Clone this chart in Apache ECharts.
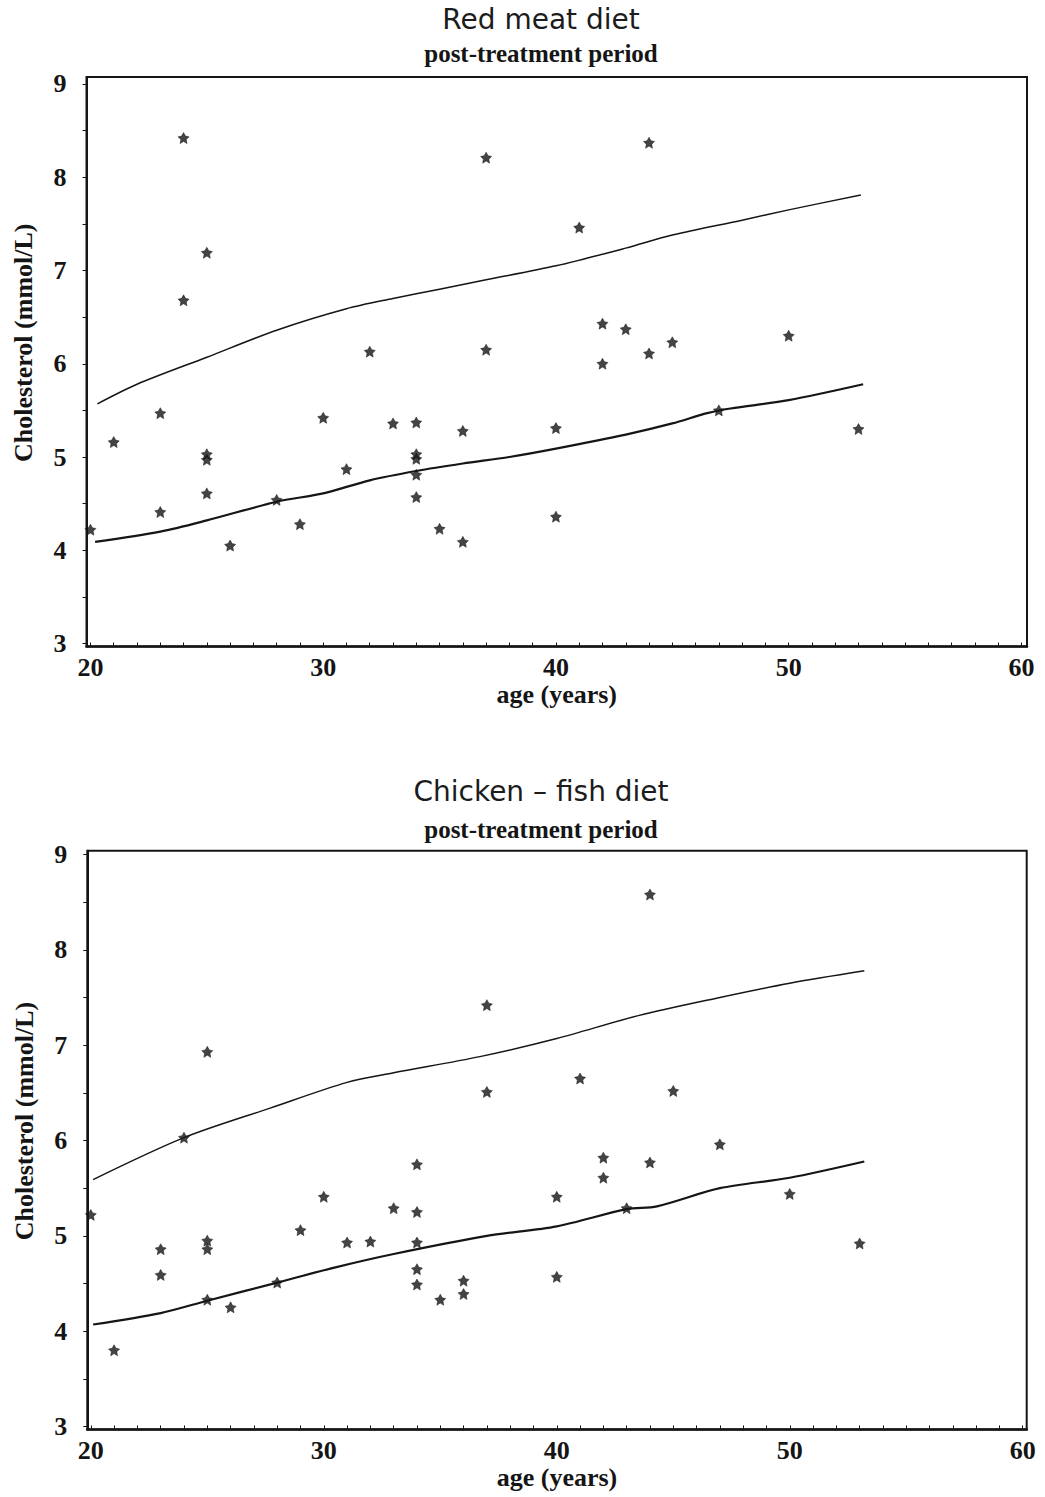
<!DOCTYPE html>
<html>
<head>
<meta charset="utf-8">
<script src="https://cdn.jsdelivr.net/npm/echarts@6/dist/echarts.min.js"></script>
<style>
html,body{margin:0;padding:0;background:#ffffff;}
#chart{width:1045px;height:1497px;}
</style>
</head>
<body>
<div id="chart"></div>
<script>
// ---- tick labels ----
const xTickLabels = [20, 30, 40, 50, 60];
const yTickLabels = [3, 4, 5, 6, 7, 8, 9];
const xMinorTicks = [20,21,22,23,24,25,26,27,28,29,30,31,32,33,34,35,36,37,38,39,40,41,42,43,44,45,46,47,48,49,50,51,52,53,54,55,56,57,58,59,60];
const yMinorTicks = [3,3.5,4,4.5,5,5.5,6,6.5,7,7.5,8,8.5,9];

// ---- Red meat diet: observed points ----
const redAges = [20,21,23,23,24,24,25,25,25,25,26,28,29,30,31,32,33,34,34,34,34,34,35,36,36,37,37,40,40,41,42,42,43,44,44,45,47,50,53];
const redChol = [4.22,5.16,5.47,4.41,8.42,6.68,7.19,5.03,4.97,4.61,4.05,4.54,4.28,5.42,4.87,6.13,5.36,5.37,5.03,4.98,4.81,4.57,4.23,5.28,4.09,8.21,6.15,5.31,4.36,7.46,6.43,6.00,6.37,8.37,6.11,6.23,5.50,6.30,5.30];

// ---- Red meat diet: reference curves ----
const redUpperAges = [20.3,22,25,28,31,33,35,37,40,43,45,48,50,53.1];
const redUpperChol = [5.57,5.78,6.07,6.36,6.59,6.70,6.80,6.90,7.05,7.24,7.38,7.54,7.65,7.81];
const redLowerAges = [20.2,23,25,28,30,32,34,36,38,40,43,45,46.5,47.5,50,53.2];
const redLowerChol = [4.09,4.20,4.32,4.52,4.61,4.75,4.85,4.93,5.00,5.09,5.24,5.36,5.47,5.52,5.61,5.78];

// ---- Chicken-fish diet: observed points ----
const chickenAges = [20,21,23,23,24,25,25,25,25,26,28,29,30,31,32,33,34,34,34,34,34,35,36,36,37,37,40,40,41,42,42,43,44,44,45,47,50,53];
const chickenChol = [5.22,3.80,4.86,4.59,6.03,6.93,4.95,4.86,4.33,4.25,4.51,5.06,5.41,4.93,4.94,5.29,5.75,5.25,4.93,4.65,4.49,4.33,4.53,4.39,7.42,6.51,5.41,4.57,6.65,5.82,5.61,5.29,8.58,5.77,6.52,5.96,5.44,4.92];

// ---- Chicken-fish diet: reference curves ----
const chickenUpperAges = [20.1,24,27.7,31,33,36.7,40,43.5,47,50,53.2];
const chickenUpperChol = [5.59,6.03,6.34,6.61,6.71,6.88,7.07,7.31,7.50,7.65,7.78];
const chickenLowerAges = [20.1,23,25,28,30.5,33,37,40,43,44.3,47,50,53.2];
const chickenLowerChol = [4.07,4.19,4.32,4.51,4.67,4.81,5.00,5.10,5.28,5.31,5.50,5.61,5.78];

const pairs = (xs, ys) => xs.map((x, i) => [x, ys[i]]);

const SERIF = '"Liberation Serif", "Times New Roman", serif';
const SANS = '"DejaVu Sans", "Liberation Sans", sans-serif';
const INK = '#151515';
const STAR = 'path://M0,-10L3.6,-3.6L10,-2.2L5,2.8L6.2,10L0,6L-6.2,10L-5,2.8L-10,-2.2L-3.6,-3.6Z';

function xAxisFor(gi, min, max) {
  return {
    type: 'value', gridIndex: gi, min: min, max: max,
    name: 'age (years)', nameLocation: 'middle', nameGap: 34,
    nameTextStyle: { fontFamily: SERIF, fontWeight: 'bold', fontSize: 26, color: INK },
    axisLine: { show: true, lineStyle: { color: INK, width: 2.5 } },
    axisTick: { show: true, inside: true, length: 4, customValues: xMinorTicks, lineStyle: { color: INK, width: 1 } },
    axisLabel: { customValues: xTickLabels, margin: 8, fontFamily: SERIF, fontWeight: 'bold', fontSize: 26, color: INK },
    splitLine: { show: false }
  };
}
function yAxisFor(gi, min, max) {
  return {
    type: 'value', gridIndex: gi, min: min, max: max,
    name: 'Cholesterol (mmol/L)', nameLocation: 'middle', nameGap: 50, nameRotate: 90,
    nameTextStyle: { fontFamily: SERIF, fontWeight: 'bold', fontSize: 26, color: INK, padding: [0, 0, 0, 38] },
    axisLine: { show: true, lineStyle: { color: INK, width: 2 } },
    axisTick: { show: true, inside: false, length: 4, customValues: yMinorTicks, lineStyle: { color: INK, width: 1 } },
    axisLabel: { customValues: yTickLabels, margin: 20, fontFamily: SERIF, fontWeight: 'bold', fontSize: 26, color: INK },
    splitLine: { show: false }
  };
}
function scatterFor(gi, data) {
  return { type: 'scatter', xAxisIndex: gi, yAxisIndex: gi, data: data, symbol: STAR, symbolSize: 11,
           itemStyle: { color: INK, borderColor: INK, borderWidth: 0.6 }, silent: true, z: 3 };
}
function lineFor(gi, data, w) {
  return { type: 'line', xAxisIndex: gi, yAxisIndex: gi, data: data, smooth: 0.3, showSymbol: false,
           lineStyle: { color: INK, width: w }, silent: true, z: 2 };
}

const chart = echarts.init(document.getElementById('chart'), null, { renderer: 'svg' });
chart.setOption({
  backgroundColor: '#ffffff',
  animation: false,
  graphic: [
    { type: 'text', x: 541, y: 19, style: { text: 'Red meat diet', align: 'center', verticalAlign: 'middle', font: '28px ' + SANS, fill: '#1c1c1c' } },
    { type: 'text', x: 541, y: 53, style: { text: 'post-treatment period', align: 'center', verticalAlign: 'middle', font: 'bold 25px ' + SERIF, fill: INK } },
    { type: 'text', x: 541, y: 791, style: { text: 'Chicken – fish diet', align: 'center', verticalAlign: 'middle', font: '28px ' + SANS, fill: '#1c1c1c' } },
    { type: 'text', x: 541, y: 829, style: { text: 'post-treatment period', align: 'center', verticalAlign: 'middle', font: 'bold 25px ' + SERIF, fill: INK } }
  ],
  grid: [
    { left: 86.5, top: 77, width: 940.5, height: 569.5, show: true, borderColor: INK, borderWidth: 2, backgroundColor: 'transparent', containLabel: false },
    { left: 87.3, top: 850.7, width: 939.4, height: 578.7, show: true, borderColor: INK, borderWidth: 2, backgroundColor: 'transparent', containLabel: false }
  ],
  xAxis: [ xAxisFor(0, 19.83, 60.24), xAxisFor(1, 19.85, 60.17) ],
  yAxis: [ yAxisFor(0, 2.968, 9.075), yAxisFor(1, 2.97, 9.04) ],
  series: [
    lineFor(0, pairs(redUpperAges, redUpperChol), 1.5),
    lineFor(0, pairs(redLowerAges, redLowerChol), 2.2),
    scatterFor(0, pairs(redAges, redChol)),
    lineFor(1, pairs(chickenUpperAges, chickenUpperChol), 1.5),
    lineFor(1, pairs(chickenLowerAges, chickenLowerChol), 2.2),
    scatterFor(1, pairs(chickenAges, chickenChol))
  ]
});
</script>
</body>
</html>
